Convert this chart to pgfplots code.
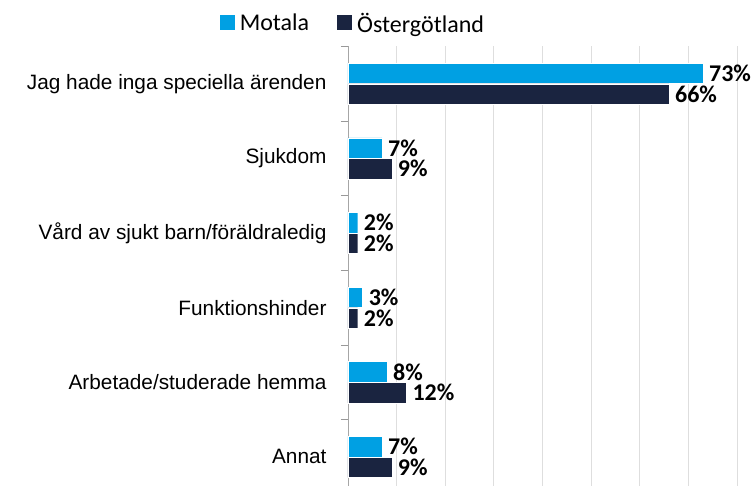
\documentclass[border=0pt]{standalone}
\usepackage{pgfplots}
\pgfplotsset{compat=1.18}
\usepackage{fontspec}
\setmainfont{Liberation Sans}
\newfontfamily\calfont{Carlito}
\definecolor{motala}{RGB}{0,160,227}
\definecolor{oster}{RGB}{26,36,64}
\begin{document}
\begin{tikzpicture}
\begin{axis}[
 name=ax,
 scale only axis,
 width=389pt, height=439.5pt,
 xbar,
 bar width=20.5pt,
 xmin=0, xmax=80,
 ymin=-0.5, ymax=5.39,
 y dir=reverse,
 axis y line*=left,
 axis x line*=bottom,
 x axis line style={draw=none},
 y axis line style={draw=black!35, line width=0.9pt, -},
 xtick={0,10,...,80}, xticklabels={}, xmajorgrids,
 grid style={draw=black!13, line width=0.8pt},
 major x tick style={draw=none},
 ytick={-0.5,0.5,...,4.5},
 yticklabels={},
 major y tick style={draw=black!40, line width=0.9pt},
 major tick length=7pt,
 tick align=outside,
 extra y ticks={0,1,2,3,4,5},
 extra y tick labels={Jag hade inga speciella ärenden, Sjukdom, Vård av sjukt barn/föräldraledig, Funktionshinder, Arbetade/studerade hemma, Annat},
 extra y tick style={major tick length=0pt, major y tick style={draw=none}, yticklabel style={font=\fontsize{20.8}{24}\selectfont, xshift=-18pt}},
 /pgf/number format/assume math mode=true,
 nodes near coords={\pgfmathprintnumber{\pgfplotspointmeta}\%},
 nodes near coords style={font=\calfont\bfseries\fontsize{24}{26}\selectfont, anchor=west, inner sep=0pt, xshift=6pt, text=black},
 legend style={at={(axis description cs:0.01,1.053)}, anchor=center, draw=none, fill=none,
   font=\calfont\fontsize{24}{28}\selectfont, inner sep=0pt, nodes={inner sep=0pt},
   /tikz/every odd column/.append style={column sep=5pt},
   /tikz/every even column/.append style={column sep=28pt}},
 legend columns=2,
 legend image code/.code={\fill[#1,draw=none] (0pt,-7pt) rectangle (15pt,8pt);},
]
\addplot[fill=motala, draw=white, line width=0.4pt, bar shift=10.4pt] coordinates {(73,0) (7,1) (2,2) (3,3) (8,4) (7,5)};
\addplot[fill=oster, draw=white, line width=0.4pt, bar shift=-10.4pt] coordinates {(66,0) (9,1) (2,2) (2,3) (12,4) (9,5)};
\legend{Motala, Östergötland}
\end{axis}
\pgfresetboundingbox
\path (ax.south west) ++(-348pt,0pt) rectangle ++(754pt,486pt);
\end{tikzpicture}
\end{document}
